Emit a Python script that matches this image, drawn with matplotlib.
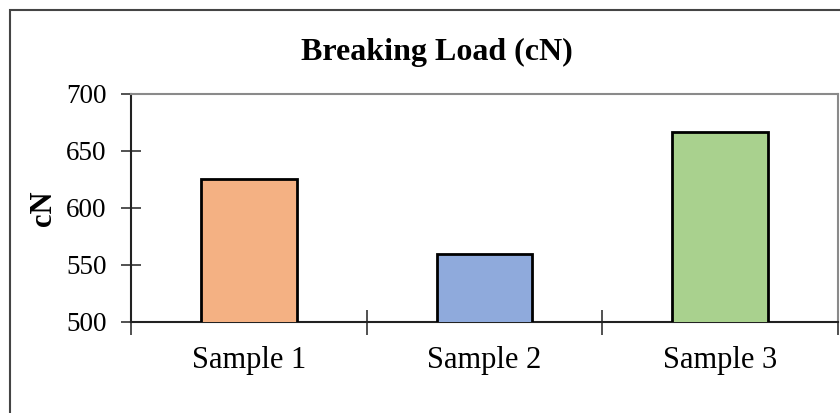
import matplotlib
matplotlib.use("Agg")
import matplotlib.pyplot as plt
from matplotlib.patches import Rectangle

categories = ["Sample 1", "Sample 2", "Sample 3"]
values = [625, 560, 667]
colors = ["#F4B183", "#8FAADC", "#A9D18E"]
title = "Breaking Load (cN)"
ylabel = "cN"
yticks = [500, 550, 600, 650, 700]

plt.rcParams['font.family'] = ['Liberation Serif', 'DejaVu Serif']

fig = plt.figure(figsize=(8.4, 4.13), dpi=100)
ax = fig.add_axes([131/840, 1-322/413, (838-131)/840, (322-94)/413])

x = list(range(len(categories)))
ax.bar(x, values, width=0.405, bottom=0, color=colors, edgecolor="black", linewidth=2.0, zorder=3)
ax.set_ylim(500, 700)
ax.set_xlim(-0.5, len(categories) - 0.5)
ax.set_yticks(yticks)
ax.set_yticklabels([str(t) for t in yticks], fontsize=19.5)
ax.set_xticks(x)
ax.set_xticklabels(categories, fontsize=22)
ax.tick_params(axis='x', which='major', length=0, pad=17)
ax.set_xticks([i - 0.5 for i in range(len(categories) + 1)], minor=True)
ax.tick_params(axis='x', which='minor', direction='inout', length=18, width=1.2, color='#333333')
ax.tick_params(axis='y', direction='inout', length=15, width=1.2, color='#333333', pad=10)

for s in ['left', 'bottom']:
    ax.spines[s].set_color('#222222')
    ax.spines[s].set_linewidth(1.5)
for s in ['top', 'right']:
    ax.spines[s].set_color('#8a8a8a')
    ax.spines[s].set_linewidth(1.5)

ax.set_ylabel(ylabel, fontsize=22, fontweight='bold', labelpad=6)
fig.text(437/840, 1-52/413, title, ha='center', va='center', fontsize=23, fontweight='bold')

fig.patches.append(Rectangle((9.5/840, -0.1), 1.2, 1-9.5/413+0.1, transform=fig.transFigure,
                             fill=False, edgecolor='#444444', linewidth=1.5))

fig.savefig("out.png", dpi=100)
